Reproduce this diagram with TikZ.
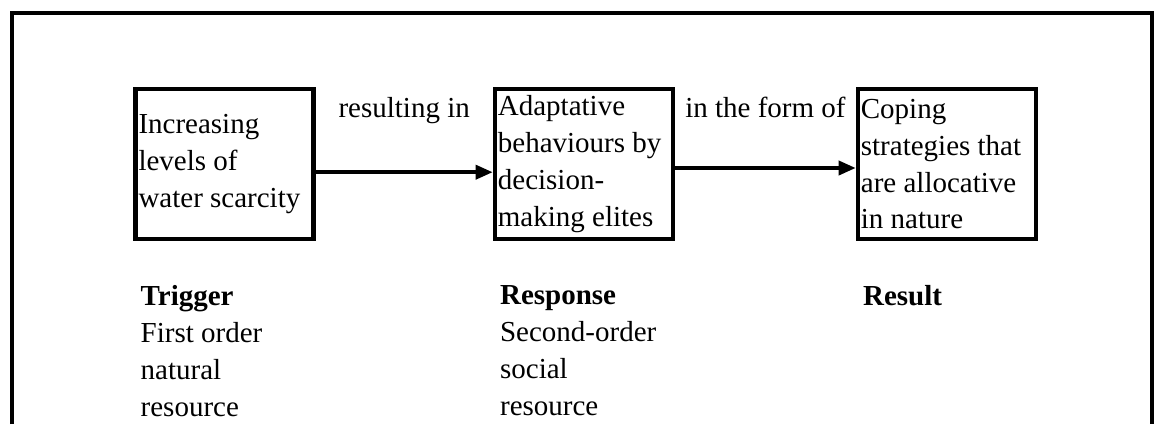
\documentclass[tikz,border=0pt]{standalone}
\usepackage{fontspec}
\setmainfont{Liberation Serif}
\usetikzlibrary{arrows.meta,positioning}

\begin{document}
\begin{tikzpicture}[
  font=\fontsize{14.5}{18.4}\selectfont,
  stage/.style={draw,line width=2.2pt,align=flush left,text width=86pt,minimum height=75pt,inner xsep=1.5pt,inner ysep=0pt},
  tag/.style={align=left,inner xsep=3.5pt,inner ysep=0pt},
  link/.style={line width=1.8pt},
  >={Triangle[length=8.5pt,width=7pt]}]
\useasboundingbox (0,0) rectangle (579pt,-212pt);
% frame, open at the bottom
\draw[line width=2pt] (5.75pt,-212pt) |- (576pt,-6.25pt) -- (576pt,-212pt);
\node[stage] (trig) at (112.25pt,-82.1pt) {Increasing\\levels of\\water scarcity};
\node[stage,right=88.5pt of trig] (resp) {Adaptative\\behaviours by\\decision-\\making elites};
\node[stage,right=90.3pt of resp] (res) {Coping\\strategies that\\are allocative\\in nature};
\draw[link,->] ([yshift=-4pt]trig.east) -- ([yshift=-4pt]resp.west)
  node[midway,anchor=base,yshift=27.5pt] (via1) {resulting in};
\draw[link,->] ([yshift=-1.9pt]resp.east) -- ([yshift=-1.9pt]res.west)
  node[midway,anchor=base,yshift=25.5pt] (via2) {in the form of};
% labels under the boxes
\node[tag,below=22pt of trig.south west,anchor=north west] (trigtag) {\textbf{Trigger}\\First order\\natural\\resource};
\node[tag,below=22pt of resp.south west,anchor=north west] (resptag) {\textbf{Response}\\Second-order\\social\\resource};
\node[tag,below=22pt of res.south west,anchor=north west] (restag) {\textbf{Result}};
\end{tikzpicture}
\end{document}
